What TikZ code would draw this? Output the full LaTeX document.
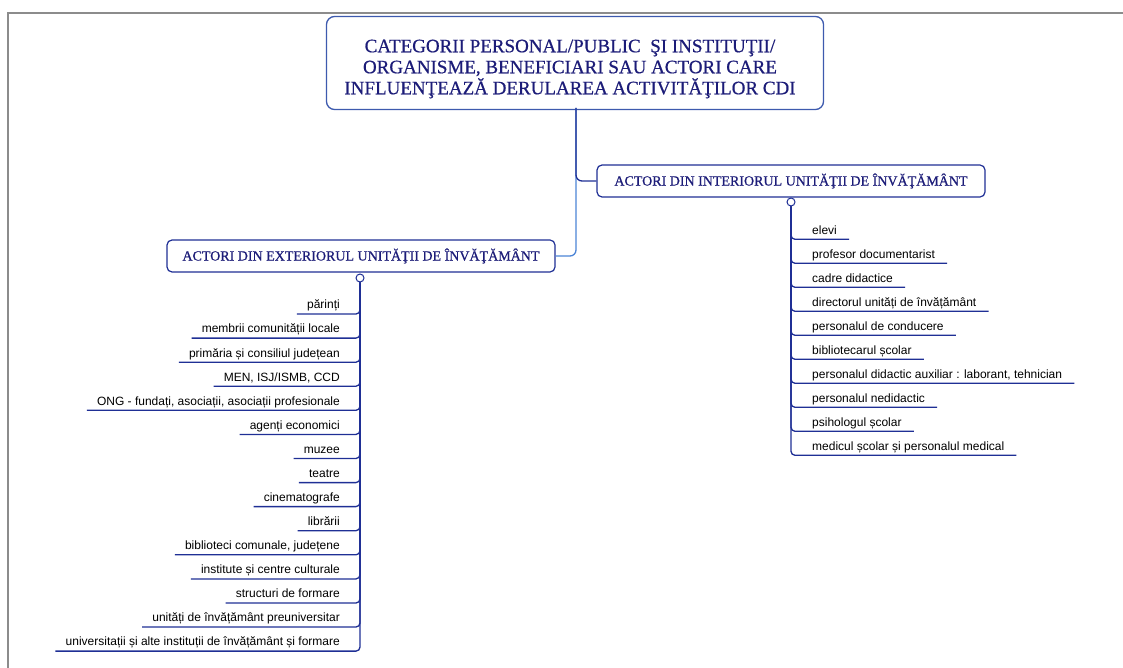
\documentclass[tikz,border=0pt]{standalone}
\usepackage{fontspec}
\setmainfont{Liberation Serif}
\newfontfamily\itemfont{Liberation Sans}
\newfontfamily\headfont[FakeBold=0.6]{Liberation Serif}
\definecolor{framegray}{HTML}{8C8C8C}
\definecolor{boxblue}{HTML}{3D5AAE}
\definecolor{titlenavy}{HTML}{1C1C78}
\definecolor{linenavy}{HTML}{1F2F95}
\definecolor{lightlink}{HTML}{4C84D6}
\begin{document}
\begin{tikzpicture}[x=1pt,y=-1pt,
  mainbox/.style={draw=boxblue, line width=1.3pt, rounded corners=8pt, fill=white, minimum width=497pt, minimum height=93pt},
  titletext/.style={align=center, text=titlenavy, font=\headfont\fontsize{19}{21}\selectfont},
  branchbox/.style={draw=linenavy, line width=1.2pt, rounded corners=5pt, fill=white, minimum width=388pt, minimum height=32pt, inner sep=0pt, text=titlenavy, font=\headfont\fontsize{14}{16}\selectfont},
  itembase/.style={inner ysep=2.5pt, text height=8.8pt, text depth=2.5pt, font=\itemfont\fontsize{12}{13}\selectfont},
  leftitem/.style={itembase, anchor=south east, inner xsep=10pt},
  rightitem/.style={itembase, anchor=south west, inner xsep=12pt},
  link/.style={draw=linenavy, line width=1.3pt, rounded corners=4pt},
  lightline/.style={draw=lightlink, line width=1.3pt, rounded corners=6pt},
  darkline/.style={draw=linenavy, line width=1.3pt, rounded corners=6pt},
  knob/.style={circle, draw=linenavy, fill=white, line width=1pt, minimum size=8pt, inner sep=0pt}]
\useasboundingbox (0,0) rectangle (1123,668);
\draw[framegray, line width=2pt] (8,668) -- (8,13) -- (1123,13);

% root
\node[mainbox] (root) at (575,63) {};
\node[titletext] (roottext) at (570,69) {CATEGORII PERSONAL/PUBLIC \ ŞI INSTITUŢII/\\ORGANISME, BENEFICIARI SAU ACTORI CARE\\INFLUENŢEAZĂ DERULAREA ACTIVITĂŢILOR CDI};

% branches
\node[branchbox] (inner) at (791,181) {ACTORI DIN INTERIORUL UNITĂŢII DE ÎNVĂŢĂMÂNT};
\node[branchbox] (outer) at (361,256) {ACTORI DIN EXTERIORUL UNITĂŢII DE ÎNVĂŢĂMÂNT};

\coordinate (rs) at (576,108);
\draw[lightline] (rs) |- (outer.east);
\draw[darkline] (rs) |- (inner.west);

\node[knob] (kR) at (791,202) {};
\node[knob] (kL) at (360,278) {};

% left items
\node[leftitem] (L1)  at (350,314.0) {părinți};
\node[leftitem] (L2)  at (350,338.1) {membrii comunității locale};
\node[leftitem] (L3)  at (350,362.2) {primăria și consiliul județean};
\node[leftitem] (L4)  at (350,386.2) {MEN, ISJ/ISMB, CCD};
\node[leftitem] (L5)  at (350,410.3) {ONG - fundați, asociații, asociații profesionale};
\node[leftitem] (L6)  at (350,434.4) {agenți economici};
\node[leftitem] (L7)  at (350,458.5) {muzee};
\node[leftitem] (L8)  at (350,482.6) {teatre};
\node[leftitem] (L9)  at (350,506.6) {cinematografe};
\node[leftitem] (L10) at (350,530.7) {librării};
\node[leftitem] (L11) at (350,554.8) {biblioteci comunale, județene};
\node[leftitem] (L12) at (350,578.9) {institute și centre culturale};
\node[leftitem] (L13) at (350,603.0) {structuri de formare};
\node[leftitem] (L14) at (350,627.0) {unități de învățământ preuniversitar};
\node[leftitem] (L15) at (350,651.1) {universitații și alte instituții de învățământ și formare};
\foreach \i in {1,...,15} \draw[link] (kL.south) |- (L\i.south west);

% right items
\node[rightitem] (R1)  at (800,239.3) {elevi};
\node[rightitem] (R2)  at (800,263.3) {profesor documentarist};
\node[rightitem] (R3)  at (800,287.3) {cadre didactice};
\node[rightitem] (R4)  at (800,311.3) {directorul unități de învățământ};
\node[rightitem] (R5)  at (800,335.3) {personalul de conducere};
\node[rightitem] (R6)  at (800,359.3) {bibliotecarul școlar};
\node[rightitem] (R7)  at (800,383.3) {personalul didactic auxiliar : laborant, tehnician};
\node[rightitem] (R8)  at (800,407.3) {personalul nedidactic};
\node[rightitem] (R9)  at (800,431.3) {psihologul școlar};
\node[rightitem] (R10) at (800,455.3) {medicul școlar și personalul medical};
\foreach \i in {1,...,10} \draw[link] (kR.south) |- (R\i.south east);
\end{tikzpicture}
\end{document}
